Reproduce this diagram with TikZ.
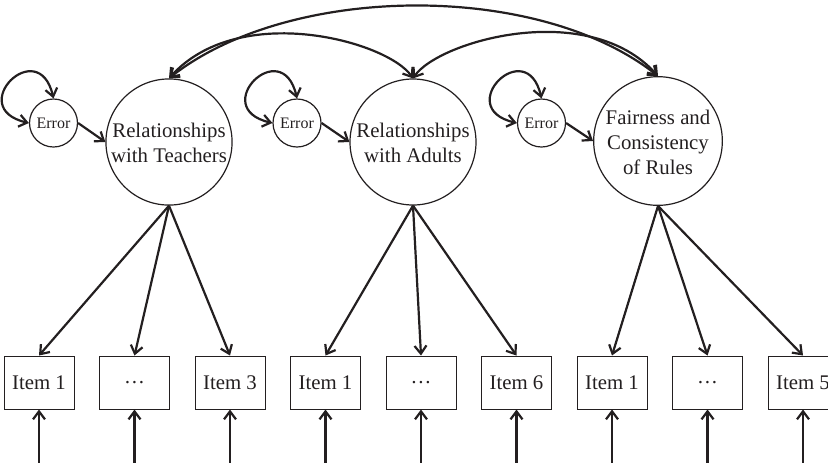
\documentclass[tikz,border=0pt]{standalone}
\usepackage{fontspec}
\setmainfont{Liberation Serif}
\usetikzlibrary{arrows.meta}
\definecolor{ink}{HTML}{231F20}
\newcommand\lowered[1]{\raisebox{-1.5pt}[\height][\depth]{\begin{tabular}{@{}c@{}}#1\end{tabular}}}
\begin{document}
\begin{tikzpicture}[x=0.5pt,y=-0.5pt,color=ink,
  latent/.style={circle,draw,line width=0.6pt,minimum size=63pt,inner sep=0pt,font=\fontsize{10.4}{12.5}\selectfont},
  err/.style={circle,draw,line width=0.6pt,minimum size=24pt,inner sep=0pt,font=\fontsize{8}{9}\selectfont},
  item/.style={rectangle,draw,line width=0.5pt,minimum width=35pt,minimum height=26.5pt,inner sep=0pt,font=\fontsize{10.4}{12.5}\selectfont},
  tip/.tip={Straight Barb[length=4pt,width=6pt]},
  arr/.style={line width=1.1pt,-tip},
  darr/.style={line width=1.1pt,tip-tip}]
\clip (0,0) rectangle (828,462);
% latent factors
\node[latent] (c1) at (169,142) {\lowered{Relationships\\with Teachers}};
\node[latent] (c2) at (413,142) {\lowered{Relationships\\with Adults}};
\node[latent] (c3) at (658,141) {\lowered{Fairness and\\Consistency\\of Rules}};
% errors
\node[err] (e1) at (53.5,123) {Error};
\node[err] (e2) at (297,123) {Error};
\node[err] (e3) at (541.5,123) {Error};
% items
\node[item] (i1) at (39,382.5) {Item 1};
\node[item] (i2) at (134.5,382.5) {\ldots};
\node[item] (i3) at (230,382.5) {Item 3};
\node[item] (i4) at (325.5,382.5) {Item 1};
\node[item] (i5) at (421,382.5) {\ldots};
\node[item] (i6) at (516.5,382.5) {Item 6};
\node[item] (i7) at (612,382.5) {Item 1};
\node[item] (i8) at (707.5,382.5) {\ldots};
\node[item] (i9) at (803,382.5) {Item 5};
% free ends of the item error arrows
\foreach \k/\x in {1/39,2/134.5,3/230,4/325.5,5/421,6/516.5,7/612,8/707.5,9/803}{
  \coordinate (b\k) at (\x,470);
  \draw[arr] (b\k) -- (i\k.south);
}
% loadings
\foreach \c/\i in {c1/i1,c1/i2,c1/i3,c2/i4,c2/i5,c2/i6,c3/i7,c3/i8,c3/i9}{
  \draw[arr] (\c.south) -- (\i.north);
}
% errors to factors and self loops
\foreach \e/\c in {e1/c1,e2/c2,e3/c3}{
  \draw[arr] (\e.east) -- (\c.west);
  \draw[darr] (\e.north) .. controls +(-15,-65) and +(-65,-15) .. (\e.west);
}
% covariances
\draw[darr] (c1.north) .. controls +(120,-95) and +(-120,-95) .. (c3.north);
\draw[darr] (c1.north) .. controls +(70,-78) and +(-25,-37) .. (c2.north);
\draw[darr] (c2.north) .. controls +(25,-37) and +(-70,-78) .. (c3.north);
\end{tikzpicture}
\end{document}
